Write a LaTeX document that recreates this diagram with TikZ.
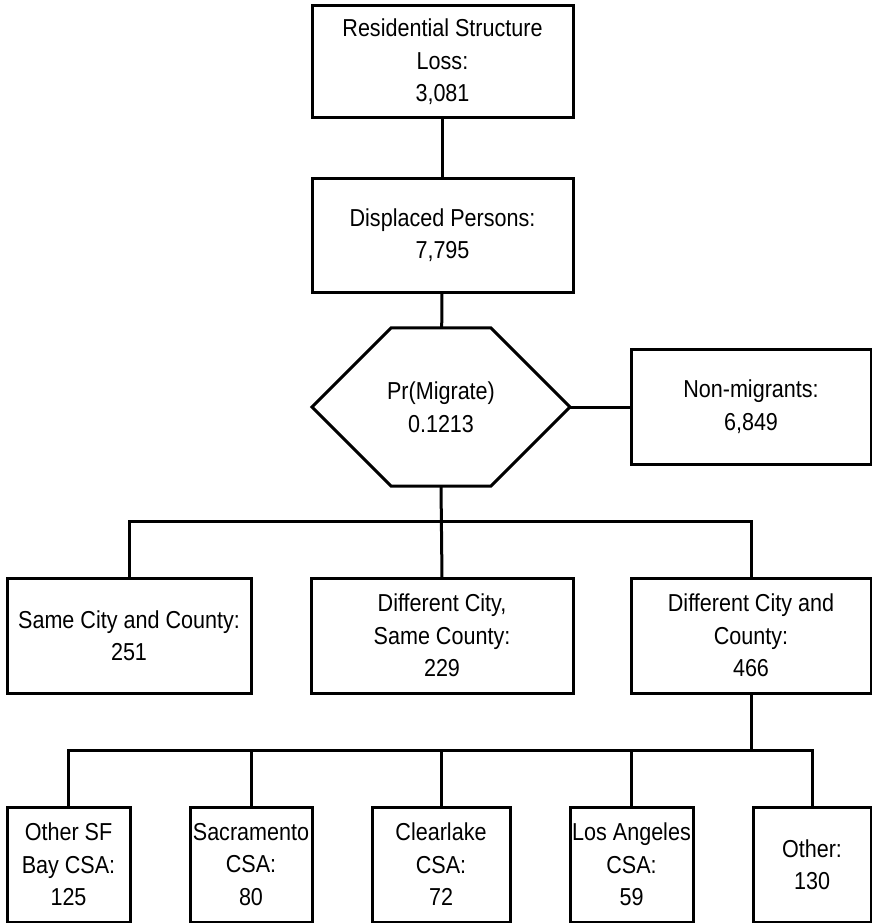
\documentclass[tikz,border=0pt]{standalone}
\usepackage{fontspec}
\setmainfont{Liberation Sans}[FakeStretch=0.88]
\usepackage{tikz}
\usetikzlibrary{shapes.misc}
\tikzset
{
    every node/.style={font=\fontsize{24.5}{32.5}\selectfont, align=center, inner sep=0pt, outer sep=0pt},
    box/.style={draw, rectangle, minimum height=115pt}, % plain boxes
    hexbox/.style={draw, chamfered rectangle, chamfered rectangle xsep=61pt, chamfered rectangle ysep=57pt, minimum width=258pt, minimum height=114pt},
}

\begin{document}
\begin{tikzpicture}[x=1pt, y=-1pt, line width=3pt]
    \useasboundingbox (0,0) rectangle (872,923);

    % Topo
    \node[box, minimum width=261pt, minimum height=112pt] (loss) at (442.5,62) {Residential Structure\\Loss:\\3,081};
    \node[box, minimum width=261pt, minimum height=114pt] (disp) at (442.5,235) {Displaced Persons:\\7,795};
    \node[hexbox] (mig) at (441,407) {Pr(Migrate)\\0.1213};
    \node[box, minimum width=240pt] (nonmig) at (751,406.5) {Non-migrants:\\6,849};

    % Migrantes
    \node[box, minimum width=244pt] (same) at (129,635.5) {Same City and County:\\251};
    \node[box, minimum width=262pt] (diffsame) at (442,635.5) {Different City,\\Same County:\\229};
    \node[box, minimum width=240pt] (diffdiff) at (751,635.5) {Different City and\\County:\\466};

    % Destinos
    \node[box, minimum width=123pt] (sf) at (68.5,864.5) {Other SF\\Bay CSA:\\125};
    \node[box, minimum width=122pt] (sac) at (251,864.5) {Sacramento\\CSA:\\80};
    \node[box, minimum width=138pt] (clear) at (441,864.5) {Clearlake\\CSA:\\72};
    \node[box, minimum width=123pt] (la) at (631.5,864.5) {Los Angeles\\CSA:\\59};
    \node[box, minimum width=118pt] (other) at (812,864.5) {Other:\\130};

    \coordinate (split1) at (442,521);
    \coordinate (split2) at (751,750);

    % Enlaces
    \draw (loss) -- (disp);
    \draw (disp) -- (mig);
    \draw (mig.east) -- (nonmig.west |- mig.east);
    \draw (mig.south) -- (diffsame.north);
    \draw (same.north) |- (split1) -| (diffdiff.north);
    \draw (diffdiff.south) -- (split2);
    \draw (sf.north) |- (split2) -| (other.north);
    \foreach \n in {sac, clear, la}
        \draw (\n.north) -- (\n.north |- split2);
\end{tikzpicture}
\end{document}
